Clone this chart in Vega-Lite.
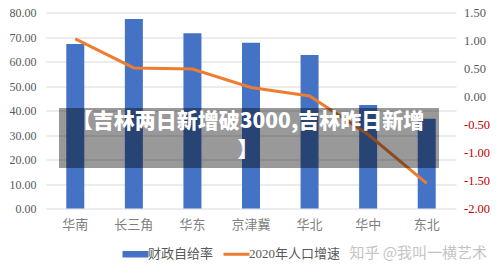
{
  "$schema": "https://vega.github.io/schema/vega-lite/v6.json",
  "width": 410,
  "height": 196,
  "autosize": {"type": "none"},
  "padding": {"left": 46, "top": 12.5, "right": 44, "bottom": 67.5},
  "background": "white",
  "config": {"view": {"stroke": null}, "font": "Noto Sans CJK SC"},
  "datasets": {
    "main": [
      {"region": "华南", "rate": 67.1, "growth": 1.03},
      {"region": "长三角", "rate": 77.3, "growth": 0.51},
      {"region": "华东", "rate": 71.5, "growth": 0.49},
      {"region": "京津冀", "rate": 67.7, "growth": 0.16},
      {"region": "华北", "rate": 62.7, "growth": 0.01},
      {"region": "华中", "rate": 42.2, "growth": -0.68},
      {"region": "东北", "rate": 36.6, "growth": -1.55}
    ],
    "banner": [{"x": 0.0317, "x2": 0.9585, "y": 0.5128, "y2": 0.2066}],
    "bannerText": [
      {"t": "【吉林两日新增破3000,吉林昨日新增", "x": 0.4927, "y": 0.441},
      {"t": "】", "x": 0.4927, "y": 0.293}
    ],
    "mark": [{"t": "知乎 @我叫一横艺术", "x": 1.0756, "y": -0.227}]
  },
  "layer": [
    {
      "data": {"name": "main"},
      "mark": {"type": "bar", "width": 18, "color": "#4472C4"},
      "encoding": {
        "x": {
          "field": "region", "type": "nominal", "sort": null,
          "scale": {"paddingInner": 0, "paddingOuter": 0},
          "axis": {"title": null, "labelAngle": 0, "ticks": false, "domain": false, "labelPadding": 10,
                   "labelFontSize": 13, "labelColor": "#7f7f7f", "labelFont": "Liberation Serif, Noto Sans CJK SC", "grid": false}
        },
        "y": {
          "field": "rate", "type": "quantitative",
          "scale": {"domain": [0, 80], "nice": false},
          "axis": {"title": null, "values": [0, 10, 20, 30, 40, 50, 60, 70, 80], "format": ".2f", "grid": true,
                   "gridColor": "#d9d9d9", "gridWidth": 1, "domain": false, "ticks": false, "labelPadding": 10,
                   "labelFontSize": 12, "labelColor": "#595959", "labelFont": "Liberation Serif"}
        },
        "color": {
          "datum": "财政自给率", "type": "nominal",
          "scale": {"domain": ["财政自给率", "2020年人口增速"], "range": ["#4472C4", "#ED7D31"]},
          "legend": {
            "orient": "none", "legendX": 83, "legendY": 235, "direction": "horizontal", "title": null,
            "labelFontSize": 13, "labelColor": "#595959", "labelFont": "Liberation Serif, Noto Sans CJK SC",
            "symbolSize": 676, "labelOffset": 6, "columnPadding": 3, "padding": 0,
            "encode": {
              "symbols": {
                "update": {
                  "shape": {"signal": "datum.value == '财政自给率' ? 'M-1,-0.25H1V0.25H-1Z' : 'M-1,0H1'"},
                  "fill": {"signal": "datum.value == '财政自给率' ? '#4472C4' : 'transparent'"},
                  "stroke": {"signal": "datum.value == '财政自给率' ? '#4472C4' : '#ED7D31'"},
                  "strokeWidth": {"signal": "datum.value == '财政自给率' ? 0 : 3"},
                  "opacity": {"value": 1}
                }
              }
            }
          }
        }
      }
    },
    {
      "data": {"name": "main"},
      "mark": {"type": "line", "strokeWidth": 3},
      "encoding": {
        "x": {"field": "region", "type": "nominal", "sort": null, "scale": {"type": "point", "padding": 0.5}, "axis": null},
        "y": {
          "field": "growth", "type": "quantitative",
          "scale": {"domain": [-2, 1.5], "nice": false, "zero": false},
          "axis": {"title": null, "orient": "right", "values": [-2, -1.5, -1, -0.5, 0, 0.5, 1, 1.5],
                   "labelExpr": "replace(format(datum.value, '.2f'), '−', '-')",
                   "grid": false, "domain": false, "ticks": false, "labelPadding": 7.5,
                   "labelFontSize": 12.5, "labelFont": "Liberation Serif",
                   "labelColor": {"condition": {"test": "datum.value < 0", "value": "#c00000"}, "value": "#595959"}}
        },
        "color": {"datum": "2020年人口增速", "type": "nominal"}
      }
    },
    {
      "data": {"name": "banner"},
      "mark": {"type": "rect", "color": "black", "opacity": 0.4},
      "encoding": {
        "x": {"field": "x", "type": "quantitative", "scale": {"domain": [0, 1], "nice": false, "zero": false}, "axis": null},
        "x2": {"field": "x2"},
        "y": {"field": "y", "type": "quantitative", "scale": {"domain": [0, 1], "nice": false, "zero": false}, "axis": null},
        "y2": {"field": "y2"}
      }
    },
    {
      "data": {"name": "bannerText"},
      "mark": {"type": "text", "color": "white", "fontWeight": 900, "fontSize": 21, "align": "center", "baseline": "middle", "font": "Noto Sans CJK SC"},
      "encoding": {
        "x": {"field": "x", "type": "quantitative", "scale": {"domain": [0, 1], "nice": false, "zero": false}, "axis": null},
        "y": {"field": "y", "type": "quantitative", "scale": {"domain": [0, 1], "nice": false, "zero": false}, "axis": null},
        "text": {"field": "t"}
      }
    },
    {
      "data": {"name": "mark"},
      "mark": {"type": "text", "color": "#c4c4c4", "fontSize": 15, "align": "right", "baseline": "middle", "font": "Noto Sans CJK SC"},
      "encoding": {
        "x": {"field": "x", "type": "quantitative", "scale": {"domain": [0, 1], "nice": false, "zero": false}, "axis": null},
        "y": {"field": "y", "type": "quantitative", "scale": {"domain": [0, 1], "nice": false, "zero": false}, "axis": null},
        "text": {"field": "t"}
      }
    }
  ],
  "resolve": {"scale": {"x": "independent", "y": "independent"}}
}
